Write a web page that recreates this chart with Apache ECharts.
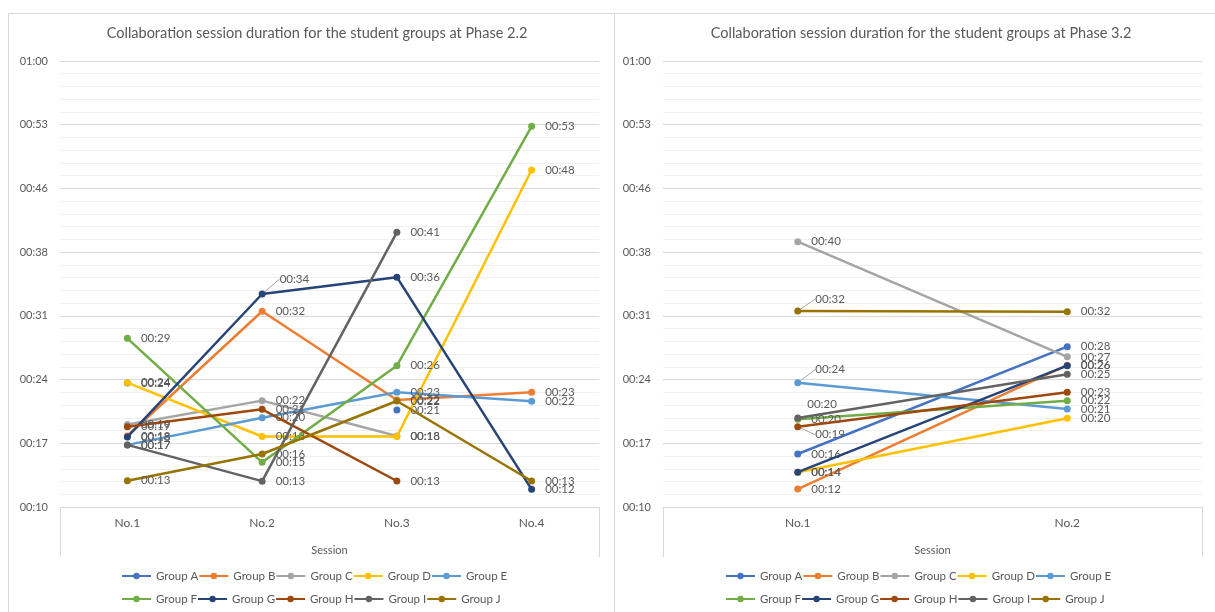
<!DOCTYPE html>
<html>
<head>
<meta charset="utf-8">
<script src="https://cdn.jsdelivr.net/npm/echarts@6/dist/echarts.min.js"></script>
<style>
html, body { margin: 0; padding: 0; background: #fff; }
#chart { width: 1215px; height: 612px; }
</style>
</head>
<body>
<div id="chart"></div>
<script>
// session durations in minutes (null = no session)
const groups = ['Group A', 'Group B', 'Group C', 'Group D', 'Group E',
                'Group F', 'Group G', 'Group H', 'Group I', 'Group J'];
const colors = ['#4472C4', '#ED7D31', '#A5A5A5', '#FFC000', '#5B9BD5',
                '#70AD47', '#264478', '#9E480E', '#636363', '#997300'];

const sessions22 = ['No.1', 'No.2', 'No.3', 'No.4'];
const p22A = [24.1, null, 21.05, null];
const p22B = [18.1, 32.2, 22.17, 23.05];
const p22C = [19.4, 22.1, 18.1, null];
const p22D = [24.13, 18.05, 18.05, 48.16];
const p22E = [17.1, 20.17, 23.05, 22.03];
const p22F = [29.14, 15.13, 26.05, 53.1];
const p22G = [18.0, 34.15, 36.05, 12.08];
const p22H = [19.15, 21.12, 13.02, null];
const p22I = [17.1, 13.0, 41.12, null];
const p22J = [13.05, 16.07, 22.06, 13.02];

const sessions32 = ['No.1', 'No.2'];
const p32A = [16.07, 28.2];
const p32B = [12.1, 26.1];
const p32C = [40.06, 27.05];
const p32D = [14.0, 20.1];
const p32E = [24.13, 21.15];
const p32F = [20.0, 22.09];
const p32G = [14.02, 26.05];
const p32H = [19.15, 23.04];
const p32I = [20.14, 25.08];
const p32J = [32.23, 32.15];

// axis in thousandths of a day, like the spreadsheet: 0.007 .. 0.042 step 0.005
const TICK = 1.44;
const yMin = 7, yMax = 42, yStep = 5;

// labels moved off their point (dx, dy, with leader line or not)
const moved22 = { 'Group G': { 1: [4, -15, true] } };
const moved32 = {
  'Group J': { 0: [4, -12, true] },
  'Group E': { 0: [4, -13, true] },
  'Group I': { 0: [-4, -14, false] },
  'Group H': { 0: [4, 8, true] }
};

const FONT = 'Lato';
const GREY = '#595959';

function hhmm(min) {
  const t = Math.floor(min + 1e-6);
  const h = Math.floor(t / 60), m = t % 60;
  return String(h).padStart(2, '0') + ':' + String(m).padStart(2, '0');
}

function makeSeries(sets, idx, moved) {
  return sets.map((vals, i) => {
    const name = groups[i];
    const mv = moved[name] || {};
    return {
      name: name,
      type: 'line',
      xAxisIndex: idx,
      yAxisIndex: idx,
      symbol: 'circle',
      symbolSize: 7,
      color: colors[i],
      lineStyle: { width: 2.5 },
      connectNulls: false,
      label: {
        show: true,
        position: 'right',
        distance: 10,
        offset: [0, 3],
        color: GREY,
        fontFamily: FONT,
        fontSize: 11.5,
        formatter: p => (p.value == null ? '' : hhmm(p.value * TICK))
      },
      labelLayout: p => {
        const d = mv[p.dataIndex];
        return d ? { dx: d[0], dy: d[1] } : {};
      },
      labelLine: { show: false, lineStyle: { color: '#a6a6a6', width: 1 } },
      data: vals.map((v, j) => {
        const item = { value: v == null ? null : v / TICK };
        if (mv[j] && mv[j][2]) item.labelLine = { show: true };
        return item;
      }),
      z: 2 + i
    };
  });
}

function yAxis(idx) {
  return {
    type: 'value',
    gridIndex: idx,
    min: yMin, max: yMax, interval: yStep,
    axisLine: { show: false },
    axisTick: { show: false },
    axisLabel: {
      color: GREY, fontFamily: FONT, fontSize: 11, margin: 12,
      formatter: v => hhmm(v * TICK)
    },
    splitLine: { lineStyle: { color: '#d9d9d9', width: 1 } },
    minorTick: { show: false, splitNumber: 5 },
    minorSplitLine: { show: true, lineStyle: { color: '#f0f0f0', width: 1 } }
  };
}

function xAxis(idx, cats) {
  return {
    type: 'category',
    gridIndex: idx,
    data: cats,
    boundaryGap: true,
    name: 'Session',
    nameLocation: 'middle',
    nameGap: 38,
    nameTextStyle: { color: GREY, fontFamily: FONT, fontSize: 11 },
    axisLine: { lineStyle: { color: '#d9d9d9', width: 1 } },
    axisTick: {
      show: true, length: 50, lineStyle: { color: '#d9d9d9' },
      interval: i => i === 0
    },
    axisLabel: { color: GREY, fontFamily: FONT, fontSize: 12, margin: 10, interval: 0 },
    splitLine: { show: false }
  };
}

function legend(left, top, names) {
  return {
    left: left, top: top,
    orient: 'horizontal',
    padding: 0,
    data: names,
    itemWidth: 29, itemHeight: 8, itemGap: 0,
    textStyle: { color: GREY, fontFamily: FONT, fontSize: 11.5, width: 44 },
    selectedMode: false
  };
}

const titleStyle = { color: GREY, fontFamily: FONT, fontSize: 14.5, fontWeight: 'normal' };

const chart = echarts.init(document.getElementById('chart'), null, { renderer: 'canvas' });
chart.setOption({
  animation: false,
  backgroundColor: '#fff',
  graphic: [
    { type: 'rect', shape: { x: 8.5, y: 13.5, width: 606, height: 620 }, style: { fill: 'none', stroke: '#d9d9d9', lineWidth: 1 }, silent: true },
    { type: 'rect', shape: { x: 614.5, y: 13.5, width: 620, height: 620 }, style: { fill: 'none', stroke: '#d9d9d9', lineWidth: 1 }, silent: true }
  ],
  title: [
    { text: 'Collaboration session duration for the student groups at Phase 2.2', left: 312, top: 21, textAlign: 'center', textStyle: titleStyle },
    { text: 'Collaboration session duration for the student groups at Phase 3.2', left: 916, top: 21, textAlign: 'center', textStyle: titleStyle }
  ],
  legend: [
    legend(121, 570, groups.slice(0, 5)),
    legend(121, 593, groups.slice(5)),
    legend(725, 570, groups.slice(0, 5)),
    legend(725, 593, groups.slice(5))
  ],
  grid: [
    { left: 60, right: 616, top: 61, bottom: 105 },
    { left: 663, right: 13, top: 61, bottom: 105 }
  ],
  xAxis: [xAxis(0, sessions22), xAxis(1, sessions32)],
  yAxis: [yAxis(0), yAxis(1)],
  series: [
    ...makeSeries([p22A, p22B, p22C, p22D, p22E, p22F, p22G, p22H, p22I, p22J], 0, moved22),
    ...makeSeries([p32A, p32B, p32C, p32D, p32E, p32F, p32G, p32H, p32I, p32J], 1, moved32)
  ]
});
</script>
</body>
</html>
